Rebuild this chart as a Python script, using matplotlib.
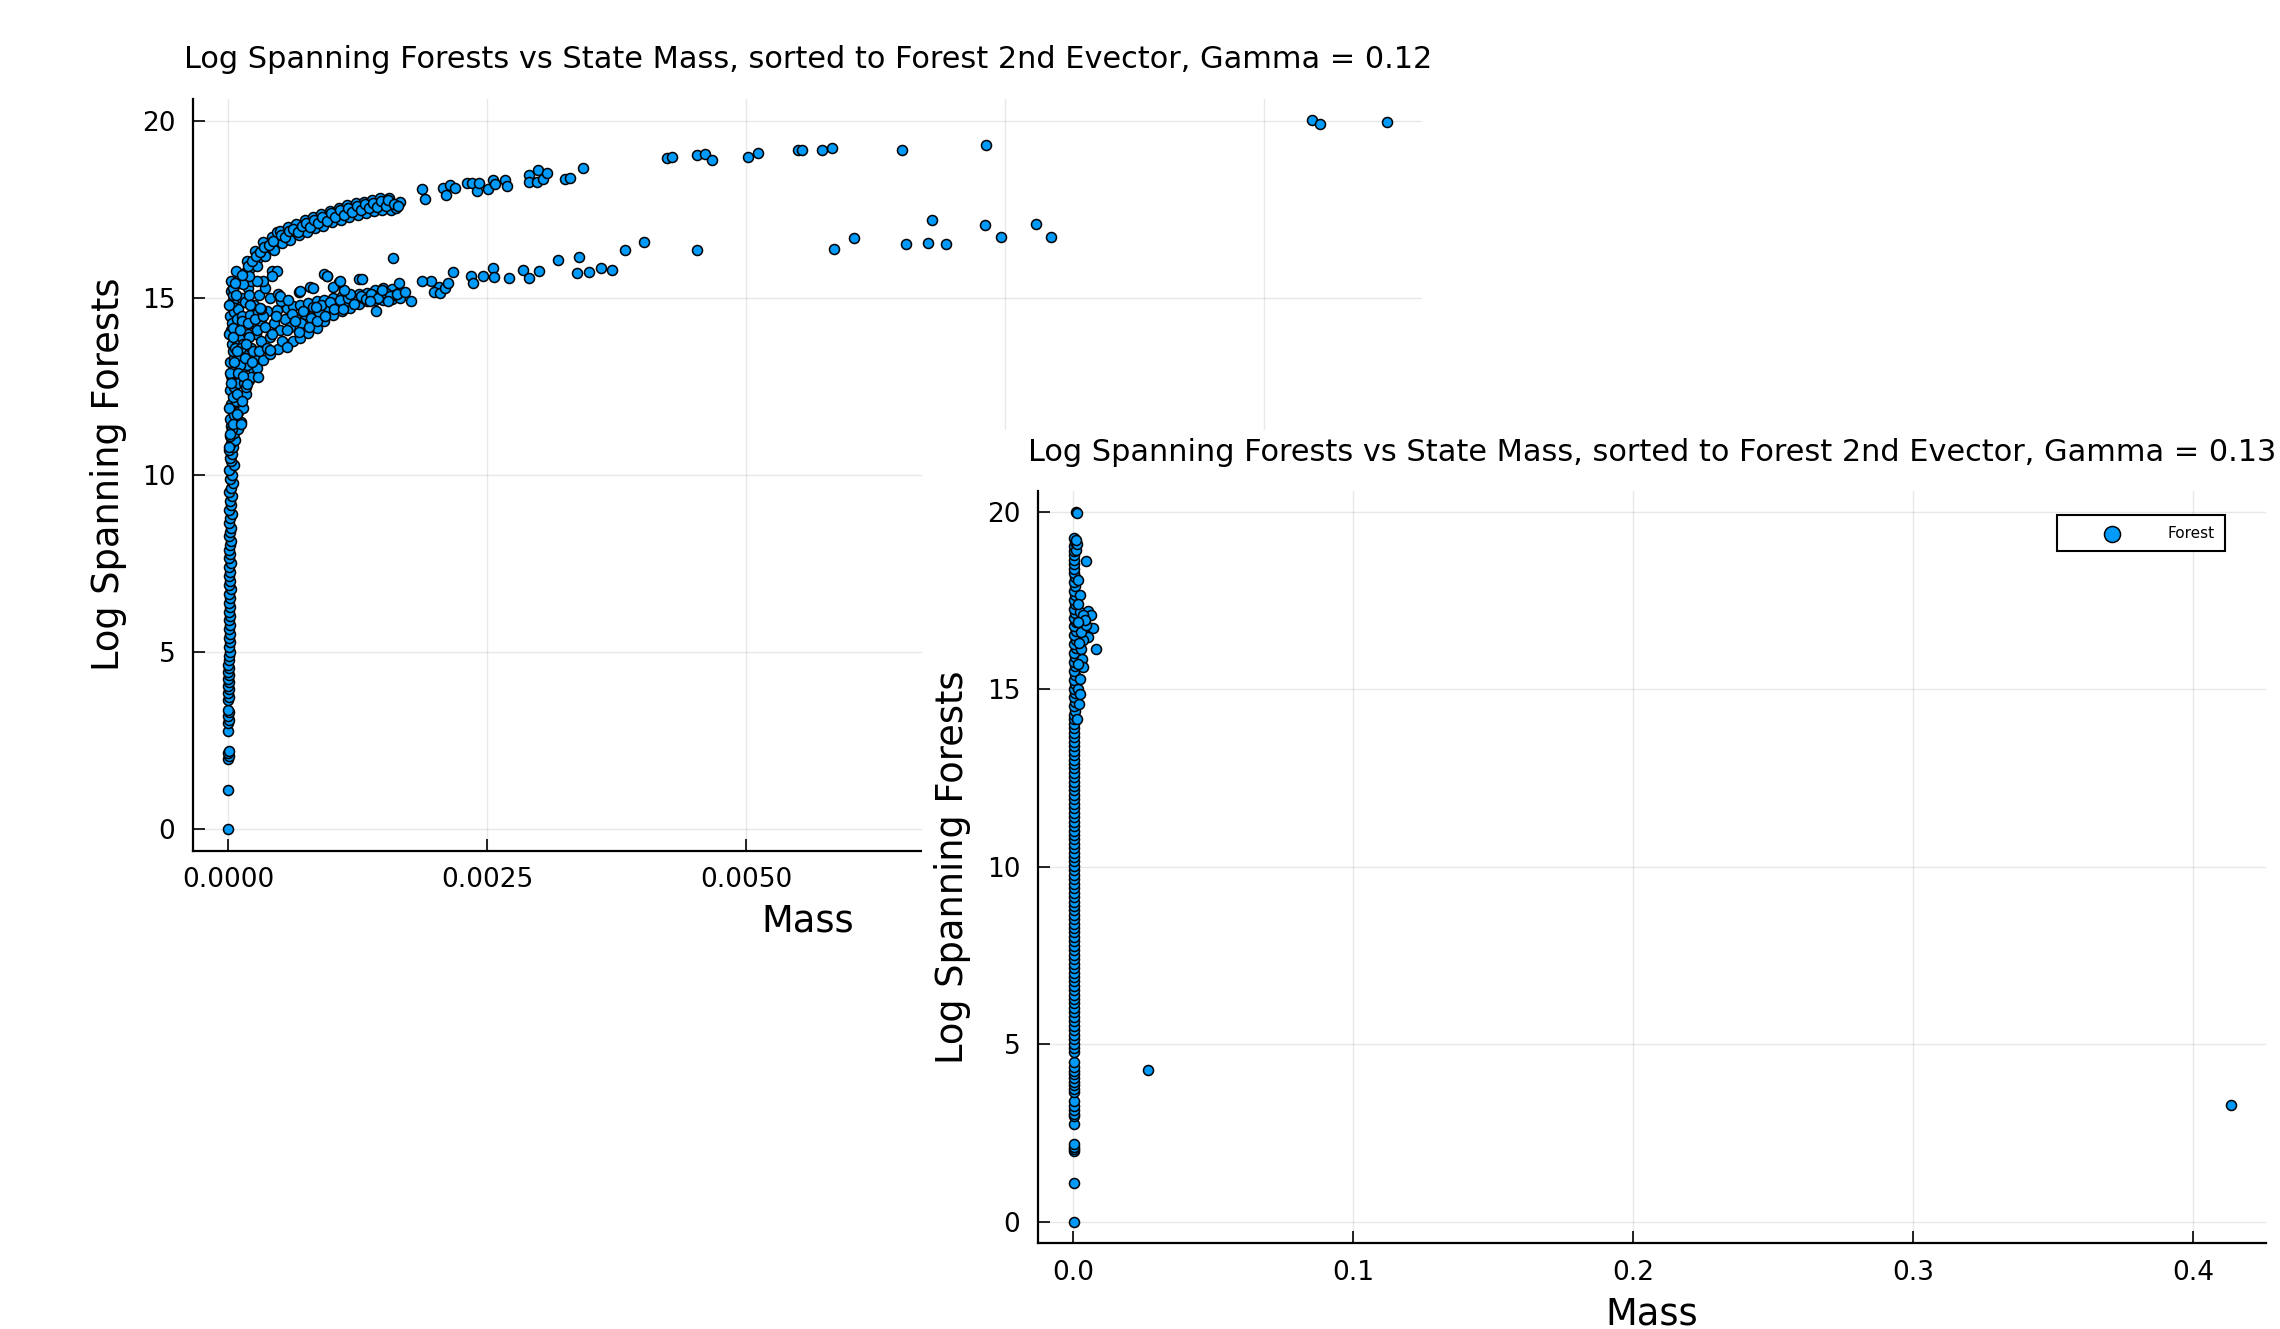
#!/usr/bin/env python

import matplotlib
matplotlib.use("Agg")
import matplotlib.pyplot as plt
from matplotlib.patches import Rectangle

# -------------------- Data (mass, log spanning forests) --------------------

# Gamma = 0.12
g12_column = [
    (0.0, 0.0), (0.0, 1.12), (0.0, 2.0), (0.00001, 2.08), (0.0, 2.15), (0.00001, 2.22),
    (0.0, 2.78), (0.0, 3.0), (0.00001, 3.1), (0.0, 3.2), (0.00001, 3.3), (0.0, 3.38),
    (0.0, 3.66), (0.00001, 3.75), (0.0, 3.85), (0.00001, 3.95), (0.0, 4.05), (0.00001, 4.15),
    (0.0, 4.25), (0.00001, 4.35), (0.0, 4.45), (0.00001, 4.55), (0.0, 4.65), (0.00001, 4.78),
    (0.00001, 4.9), (0.00002, 5.02), (0.00001, 5.15), (0.00002, 5.28), (0.00001, 5.4),
    (0.00002, 5.52), (0.00001, 5.65), (0.00002, 5.78), (0.00001, 5.9), (0.00002, 6.02),
    (0.00001, 6.15), (0.00002, 6.28), (0.00001, 6.4), (0.00002, 6.52), (0.00001, 6.65),
    (0.00003, 6.78), (0.00001, 6.9), (0.00002, 7.02), (0.00001, 7.15), (0.00002, 7.28),
    (0.00001, 7.4), (0.00003, 7.52), (0.00001, 7.65), (0.00002, 7.78), (0.00001, 7.9),
    (0.00002, 8.02), (0.00003, 8.15), (0.00001, 8.28), (0.00002, 8.4), (0.00003, 8.52),
    (0.00001, 8.65), (0.00002, 8.78), (0.00004, 8.9), (0.00001, 9.02), (0.00003, 9.15),
    (0.00002, 9.28), (0.00004, 9.4), (0.00001, 9.52), (0.00003, 9.65), (0.00005, 9.78),
    (0.00002, 9.9), (0.00004, 10.02), (0.00001, 10.15), (0.00006, 10.28), (0.00003, 10.4),
]

g12_root = [
    (0.00002, 10.5), (0.00004, 10.6), (0.00001, 10.7), (0.00005, 10.8), (0.00003, 10.9),
    (0.00007, 11.0), (0.00002, 11.1), (0.00006, 11.2), (0.0001, 11.3), (0.00003, 11.4),
    (0.00008, 11.5), (0.00012, 11.5), (0.00002, 11.6), (0.00006, 11.7), (0.0001, 11.8),
    (0.00014, 11.9), (0.00003, 12.0), (0.00008, 12.1), (0.00012, 12.2), (0.00017, 12.3),
    (0.00002, 12.4), (0.00006, 12.5), (0.0001, 12.6), (0.00015, 12.6), (0.0002, 12.7),
    (0.00003, 12.8), (0.00008, 12.9), (0.00013, 13.0), (0.00024, 13.0), (0.00018, 13.1),
    (0.00002, 13.2), (0.00006, 13.3), (0.0001, 13.4), (0.00028, 13.3), (0.00015, 13.5),
    (0.00022, 13.6), (0.00004, 13.7), (0.00009, 13.8), (0.00035, 13.6), (0.00013, 13.9),
    (0.00019, 14.0), (0.00027, 14.0), (0.00003, 14.1), (0.00007, 14.2), (0.00011, 14.3),
    (0.00016, 14.4), (0.00022, 14.3), (0.00032, 14.3), (0.00002, 14.5), (0.00006, 14.6),
    (0.0001, 14.7), (0.00004, 14.9), (0.00008, 15.0), (0.00013, 15.0), (0.00003, 15.2),
    (0.00006, 15.35), (0.00009, 15.5), (0.00012, 15.6), (0.00016, 15.7),
    (0.00001, 10.8), (0.00004, 11.3), (0.00001, 11.9), (0.00005, 12.2), (0.00002, 12.9),
    (0.00005, 13.5), (0.00001, 14.0), (0.00004, 14.3), (0.00001, 14.8), (0.00005, 15.1),
    (0.00009, 12.3), (0.00011, 13.1), (0.00007, 13.6), (0.00014, 13.7), (0.00009, 14.4),
    (0.00013, 14.5), (0.00016, 14.9), (0.00019, 15.3), (0.00022, 15.5), (0.0002, 15.1),
    (0.00025, 14.8), (0.0003, 15.1), (0.00036, 15.3), (0.0004, 15.0), (0.00034, 15.5),
    (0.00028, 15.5),
]

g12_upper = [
    (0.00005, 15.29), (0.00011, 15.57), (0.00016, 15.72), (0.00021, 15.85), (0.00025, 16.0),
    (0.00029, 16.13), (0.00033, 16.28), (0.00037, 16.42), (0.00041, 16.49), (0.00045, 16.56),
    (0.00049, 16.66), (0.00053, 16.75), (0.00057, 16.8), (0.00061, 16.84), (0.00065, 16.91),
    (0.00069, 16.98), (0.00073, 17.02), (0.00077, 17.07), (0.00081, 17.12), (0.00085, 17.17),
    (0.00089, 17.2), (0.00093, 17.24), (0.00097, 17.3), (0.00101, 17.36), (0.00106, 17.38),
    (0.0011, 17.4), (0.00114, 17.45), (0.00118, 17.5), (0.00122, 17.52), (0.00126, 17.54),
    (0.0013, 17.57), (0.00134, 17.59), (0.00138, 17.62), (0.00142, 17.64), (0.00146, 17.66),
    (0.0015, 17.68), (0.00158, 17.64), (0.00166, 17.73),
    (0.00003, 15.5), (0.00008, 15.78), (0.00018, 16.05), (0.00026, 16.32), (0.00034, 16.58),
    (0.00042, 16.72), (0.00047, 16.88), (0.0005, 16.9), (0.00058, 17.0), (0.00066, 17.1),
    (0.00074, 17.2), (0.00082, 17.3), (0.0009, 17.38), (0.00098, 17.47), (0.00107, 17.55),
    (0.00115, 17.62), (0.00123, 17.68), (0.00131, 17.72), (0.00139, 17.78), (0.00147, 17.82),
    (0.00155, 17.84),
    (0.00008, 15.1), (0.00014, 15.4), (0.0002, 15.62), (0.00028, 15.9), (0.00036, 16.2),
    (0.00044, 16.36), (0.00052, 16.55), (0.0006, 16.64), (0.00068, 16.78), (0.00076, 16.88),
    (0.00084, 16.98), (0.00092, 17.05), (0.001, 17.16), (0.00109, 17.22), (0.00117, 17.3),
    (0.00125, 17.36), (0.00133, 17.4), (0.00141, 17.45), (0.00149, 17.5), (0.00157, 17.48),
    (0.00162, 17.55),
    (0.00007, 15.42), (0.00013, 15.66), (0.00019, 15.9), (0.00023, 16.05), (0.00027, 16.2),
    (0.00031, 16.3), (0.00035, 16.45), (0.00039, 16.5), (0.00043, 16.62), (0.00051, 16.78),
    (0.00055, 16.72), (0.00059, 16.9), (0.00063, 16.95), (0.00067, 16.88), (0.00071, 17.05),
    (0.00075, 17.12), (0.00079, 17.02), (0.00083, 17.22), (0.00087, 17.12), (0.00091, 17.3),
    (0.00095, 17.18), (0.00099, 17.4), (0.00103, 17.3), (0.00108, 17.48), (0.00112, 17.36),
    (0.00116, 17.55), (0.0012, 17.44), (0.00124, 17.6), (0.00128, 17.5), (0.00132, 17.66),
    (0.00136, 17.55), (0.0014, 17.7), (0.00144, 17.58), (0.00148, 17.74), (0.00152, 17.6),
    (0.00154, 17.76), (0.0016, 17.66), (0.00164, 17.6),
    (0.001872, 18.08), (0.0019, 17.80), (0.002077, 18.10), (0.002103, 17.92), (0.002142, 18.20),
    (0.00219, 18.10), (0.002303, 18.24), (0.002351, 18.24), (0.0024, 18.03), (0.002425, 18.24),
    (0.002512, 18.08), (0.002561, 18.34), (0.002577, 18.22), (0.002673, 18.34), (0.002689, 18.18),
    (0.002908, 18.48), (0.002908, 18.27), (0.002979, 18.27), (0.002995, 18.62), (0.003044, 18.37),
    (0.003076, 18.55), (0.003253, 18.37), (0.003301, 18.40), (0.003423, 18.67), (0.004235, 18.97),
    (0.004283, 18.99), (0.004525, 19.04), (0.004605, 19.06), (0.00467, 18.90), (0.005024, 18.99),
    (0.005121, 19.11), (0.005507, 19.18), (0.00554, 19.18), (0.005733, 19.18), (0.00583, 19.25),
    (0.006511, 19.18), (0.007317, 19.32),
]

g12_lower = [
    (0.000016, 11.17), (0.00005, 11.45), (0.000081, 11.73), (0.00013, 12.1), (0.000177, 12.48),
    (0.00022, 12.78), (0.000274, 13.04), (0.00034, 13.25), (0.000403, 13.42), (0.00048, 13.56),
    (0.000564, 13.70), (0.00063, 13.8), (0.000693, 13.89), (0.00077, 14.02), (0.000854, 14.17),
    (0.00093, 14.35), (0.001014, 14.54), (0.0011, 14.64), (0.001176, 14.73), (0.00126, 14.83),
    (0.001337, 14.92), (0.00142, 14.94), (0.001497, 14.96), (0.00158, 14.98), (0.001659, 15.01),
    (0.000049, 14.17), (0.00013, 14.36), (0.00021, 14.54), (0.00029, 14.6), (0.000371, 14.64),
    (0.00047, 14.68), (0.000564, 14.73), (0.00063, 14.78), (0.000693, 14.82), (0.00077, 14.87),
    (0.000854, 14.92), (0.00093, 14.96), (0.001014, 15.01), (0.0011, 15.06), (0.001176, 15.10),
    (0.00126, 15.12), (0.001337, 15.15), (0.00142, 15.22), (0.001497, 15.29), (0.00158, 15.25),
    (0.001659, 15.20),
    (0.00003, 12.6), (0.00006, 13.2), (0.0001, 12.9), (0.00012, 13.6), (0.00016, 13.3),
    (0.0002, 13.9), (0.00024, 13.5), (0.00028, 14.1), (0.00032, 13.8), (0.00036, 14.2),
    (0.0004, 13.9), (0.00044, 14.3), (0.0005, 14.1), (0.00055, 14.4), (0.0006, 14.2),
    (0.00066, 14.4), (0.0007, 14.3), (0.00074, 14.55), (0.0008, 14.45), (0.00088, 14.6),
    (0.00096, 14.75), (0.00105, 14.8), (0.00113, 14.9), (0.0012, 14.95), (0.0013, 15.02),
    (0.0014, 15.08), (0.0015, 15.12), (0.0016, 15.1),
    (0.00005, 13.9), (0.00009, 13.5), (0.00011, 14.1), (0.00014, 12.8), (0.00017, 13.7),
    (0.00019, 14.3), (0.00023, 13.2), (0.00026, 14.4), (0.0003, 13.5), (0.00034, 14.5),
    (0.00038, 13.6), (0.00042, 14.0), (0.00046, 14.5), (0.00052, 13.8), (0.00057, 14.1),
    (0.00062, 14.55), (0.00068, 14.05), (0.00072, 14.65), (0.00078, 14.2), (0.00082, 14.75),
    (0.00086, 14.35), (0.0009, 14.8), (0.00094, 14.5), (0.00098, 14.9), (0.00102, 14.7),
    (0.00108, 14.95), (0.00111, 14.7), (0.00116, 15.0), (0.00122, 14.85), (0.00128, 15.05),
    (0.00133, 14.98), (0.00138, 15.12), (0.00145, 15.0), (0.00152, 15.15), (0.00156, 15.05),
    (0.00163, 15.12),
    (0.002039, 15.31), (0.001983, 15.17), (0.001956, 15.5), (0.001872, 15.48), (0.001761, 14.93),
    (0.001706, 15.17), (0.00165, 15.42), (0.001594, 16.13), (0.001539, 14.92), (0.001483, 15.22),
    (0.001428, 14.65), (0.001372, 14.93), (0.001261, 15.54), (0.001178, 15.12), (0.001122, 15.22),
    (0.001067, 15.45), (0.001011, 15.31), (0.000956, 15.64), (0.000928, 15.68), (0.000844, 14.75),
    (0.000789, 15.31), (0.000689, 15.17), (0.00065, 14.37), (0.000567, 13.62), (0.000511, 14.93),
    (0.000483, 15.12), (0.000428, 15.78), (0.0004, 13.53), (0.000317, 14.7), (0.000289, 12.78),
    (0.000178, 12.59), (0.000122, 11.46), (0.000693, 15.20), (0.000821, 15.29), (0.00095, 15.62),
    (0.001079, 15.48), (0.001288, 15.55), (0.000467, 15.76), (0.000419, 15.62), (0.000499, 15.06),
    (0.00058, 14.96), (0.00021, 14.82), (0.000306, 14.73),
    (0.002045, 15.14), (0.002093, 15.28), (0.002126, 15.43), (0.002168, 15.74), (0.002342, 15.64),
    (0.002367, 15.43), (0.002458, 15.64), (0.002554, 15.85), (0.002567, 15.59), (0.002712, 15.57),
    (0.002851, 15.81), (0.002908, 15.57), (0.003005, 15.76), (0.003188, 16.09), (0.003365, 15.71),
    (0.003391, 16.15), (0.003488, 15.74), (0.003597, 15.85), (0.003707, 15.81), (0.003832, 16.35),
    (0.00402, 16.58), (0.004532, 16.35), (0.005846, 16.40), (0.006046, 16.71), (0.00655, 16.53),
    (0.006753, 16.56), (0.006932, 16.53), (0.006794, 17.21), (0.007309, 17.07), (0.007461, 16.72),
    (0.0078, 17.11), (0.007946, 16.72),
]

g12_far = [(0.010469, 20.03), (0.010544, 19.92), (0.011192, 19.98)]

# Gamma = 0.13
g13_column = [
    (0.0002, 0.0), (0.0002, 1.08), (0.0002, 1.99), (0.0003, 2.05), (0.0002, 2.12), (0.0003, 2.2),
    (0.0002, 2.76), (0.0002, 2.97), (0.0003, 3.05), (0.0002, 3.14), (0.0003, 3.25), (0.0002, 3.39),
    (0.0002, 3.66), (0.0003, 3.75), (0.0002, 3.85), (0.0003, 3.95), (0.0002, 4.05), (0.0003, 4.15),
    (0.0002, 4.25), (0.0003, 4.35), (0.0002, 4.5), (0.0002, 4.79), (0.0003, 4.9),
    (0.0002, 5.02), (0.0003, 5.15), (0.0002, 5.27), (0.0003, 5.4), (0.0002, 5.52), (0.0003, 5.65),
    (0.0002, 5.77), (0.0003, 5.9), (0.0002, 6.02), (0.0003, 6.15), (0.0002, 6.27), (0.0003, 6.4),
    (0.0002, 6.52), (0.0003, 6.65), (0.0002, 6.77), (0.0003, 6.9), (0.0002, 7.02), (0.0003, 7.15),
    (0.0002, 7.27), (0.0003, 7.4), (0.0002, 7.52), (0.0003, 7.65), (0.0002, 7.77), (0.0003, 7.9),
    (0.0002, 8.02), (0.0003, 8.15), (0.0002, 8.27), (0.0003, 8.4), (0.0002, 8.52), (0.0003, 8.65),
    (0.0002, 8.77), (0.0003, 8.9), (0.0002, 9.02), (0.0003, 9.15), (0.0002, 9.27), (0.0003, 9.4),
    (0.0002, 9.52), (0.0003, 9.65), (0.0002, 9.77), (0.0003, 9.9), (0.0002, 10.02), (0.0003, 10.15),
    (0.0002, 10.27), (0.0003, 10.4), (0.0002, 10.52), (0.0003, 10.65), (0.0002, 10.77), (0.0003, 10.9),
    (0.0002, 11.02), (0.0003, 11.15), (0.0002, 11.27), (0.0003, 11.4), (0.0002, 11.52), (0.0003, 11.65),
    (0.0002, 11.77), (0.0003, 11.9), (0.0002, 12.02), (0.0003, 12.15), (0.0002, 12.27), (0.0003, 12.4),
    (0.0002, 12.52), (0.0003, 12.65), (0.0002, 12.77), (0.0003, 12.9), (0.0002, 13.02), (0.0003, 13.15),
    (0.0002, 13.27), (0.0004, 13.4), (0.0002, 13.52), (0.0004, 13.65), (0.0002, 13.77), (0.0005, 13.9),
    (0.0002, 14.02), (0.0005, 14.15), (0.0003, 14.27), (0.0006, 14.4), (0.0003, 14.52), (0.0006, 14.65),
    (0.0003, 14.77), (0.0007, 14.9), (0.0003, 15.02), (0.0007, 15.15), (0.0003, 15.27), (0.0008, 15.4),
    (0.0003, 15.52), (0.0008, 15.65), (0.0003, 15.77), (0.0008, 15.9), (0.0003, 16.02), (0.0009, 16.15),
    (0.0003, 16.27), (0.0009, 16.4), (0.0003, 16.52), (0.0009, 16.65), (0.0003, 16.77), (0.0009, 16.9),
    (0.0003, 17.02), (0.0008, 17.15), (0.0003, 17.27), (0.0008, 17.4), (0.0003, 17.52), (0.0008, 17.65),
    (0.0003, 17.77), (0.0007, 17.9), (0.0003, 18.02), (0.0006, 18.15), (0.0003, 18.27), (0.0005, 18.4),
    (0.0003, 18.52), (0.0004, 18.65), (0.0003, 18.77), (0.0004, 18.9), (0.0003, 19.02), (0.0006, 19.15),
    (0.0002, 19.27), (0.0009, 20.0), (0.00143, 19.97),
]

g13_spread = [
    (0.00453, 18.61), (0.00239, 17.17), (0.00537, 17.21), (0.00656, 17.10), (0.00418, 16.75),
    (0.00716, 16.73), (0.00537, 16.47), (0.00358, 16.40), (0.00835, 16.12), (0.00298, 16.12),
    (0.00334, 15.84), (0.00358, 15.63), (0.00239, 15.28), (0.00179, 15.0), (0.00215, 14.58),
    (0.00143, 14.16), (0.00239, 14.86), (0.00298, 16.61), (0.00477, 16.82), (0.00119, 18.92),
    (0.00179, 18.08), (0.00239, 17.66), (0.00358, 17.10), (0.00418, 16.96), (0.0015, 19.1),
    (0.0012, 19.2), (0.0016, 17.4), (0.0018, 16.9), (0.002, 16.3), (0.0017, 15.7),
]

g13_outliers = [(0.02685, 4.27), (0.4134, 3.28)]

y_ticks = [0, 5, 10, 15, 20]
g12_xticks = [0.0, 0.0025, 0.005, 0.0075, 0.01]
# the last two labels are hidden under the second subplot in the original
g12_xlabels = ["0.0000", "0.0025", "0.0050", "", ""]
g13_xticks = [0.0, 0.1, 0.2, 0.3, 0.4]
g13_xlabels = ["0.0", "0.1", "0.2", "0.3", "0.4"]

TITLE = "Log Spanning Forests vs State Mass, sorted to Forest 2nd Evector, Gamma = {}"
FOREST_BLUE = "#009afa"

# -------------------- Utils --------------------

def unzip(points):
    return [p[0] for p in points], [p[1] for p in points]


def style_axes(ax, gamma, xlim, ylim, xticks, xlabels):
    ax.set_title(TITLE.format(gamma), fontsize=21.9, pad=22)
    ax.set_xlabel("Mass", fontsize=26.5, labelpad=7)
    ax.set_ylabel("Log Spanning Forests", fontsize=26.5, labelpad=11)
    ax.set_xlim(*xlim)
    ax.set_ylim(*ylim)
    ax.set_xticks(xticks)
    ax.set_xticklabels(xlabels)
    ax.set_yticks(y_ticks)
    ax.tick_params(direction="in", length=8.5, width=1.2, labelsize=19, color="black")
    ax.tick_params(axis="x", pad=12)
    ax.tick_params(axis="y", pad=13)
    for side in ("top", "right"):
        ax.spines[side].set_visible(False)
    for side in ("left", "bottom"):
        ax.spines[side].set_linewidth(1.6)
    ax.grid(True, color="black", alpha=0.09, linewidth=1.0)
    ax.set_axisbelow(True)


def scatter(ax, groups):
    xs, ys = [], []
    for g in groups:
        gx, gy = unzip(g)
        xs += gx
        ys += gy
    ax.scatter(xs, ys, s=52, c=FOREST_BLUE, edgecolors="black", linewidths=1.1,
               zorder=3, label="Forest")

# -------------------- Entry Point --------------------

def main():
    fig = plt.figure(figsize=(22.8, 13.29), dpi=100)

    ax1 = fig.add_axes([0.0848, 0.360, 0.5389, 0.5656])
    ax1.set_zorder(0)
    scatter(ax1, [g12_column, g12_root, g12_lower, g12_upper, g12_far])
    style_axes(ax1, 0.12, (-0.000336, 0.011528), (-0.6, 20.63), g12_xticks, g12_xlabels)

    # the second subplot sits on top with its own white background
    fig.add_artist(Rectangle((0.4044, 0.0), 1 - 0.4044, 0.6765, transform=fig.transFigure,
                             facecolor="white", edgecolor="none", zorder=1))

    ax2 = fig.add_axes([0.4554, 0.0646, 0.5383, 0.5656])
    ax2.set_zorder(2)
    scatter(ax2, [g13_column, g13_spread, g13_outliers])
    style_axes(ax2, 0.13, (-0.0124, 0.4258), (-0.6, 20.57), g13_xticks, g13_xlabels)

    leg = ax2.legend(loc="upper right", bbox_to_anchor=(0.967, 0.9687), borderaxespad=0,
                     fontsize=11, fancybox=False, edgecolor="black", framealpha=1,
                     borderpad=0.7, handlelength=5.7, handletextpad=0.8, markerscale=1.6)
    leg.get_frame().set_linewidth(1.5)

    fig.savefig("out.png", dpi=100)


if __name__ == "__main__":
    main()
